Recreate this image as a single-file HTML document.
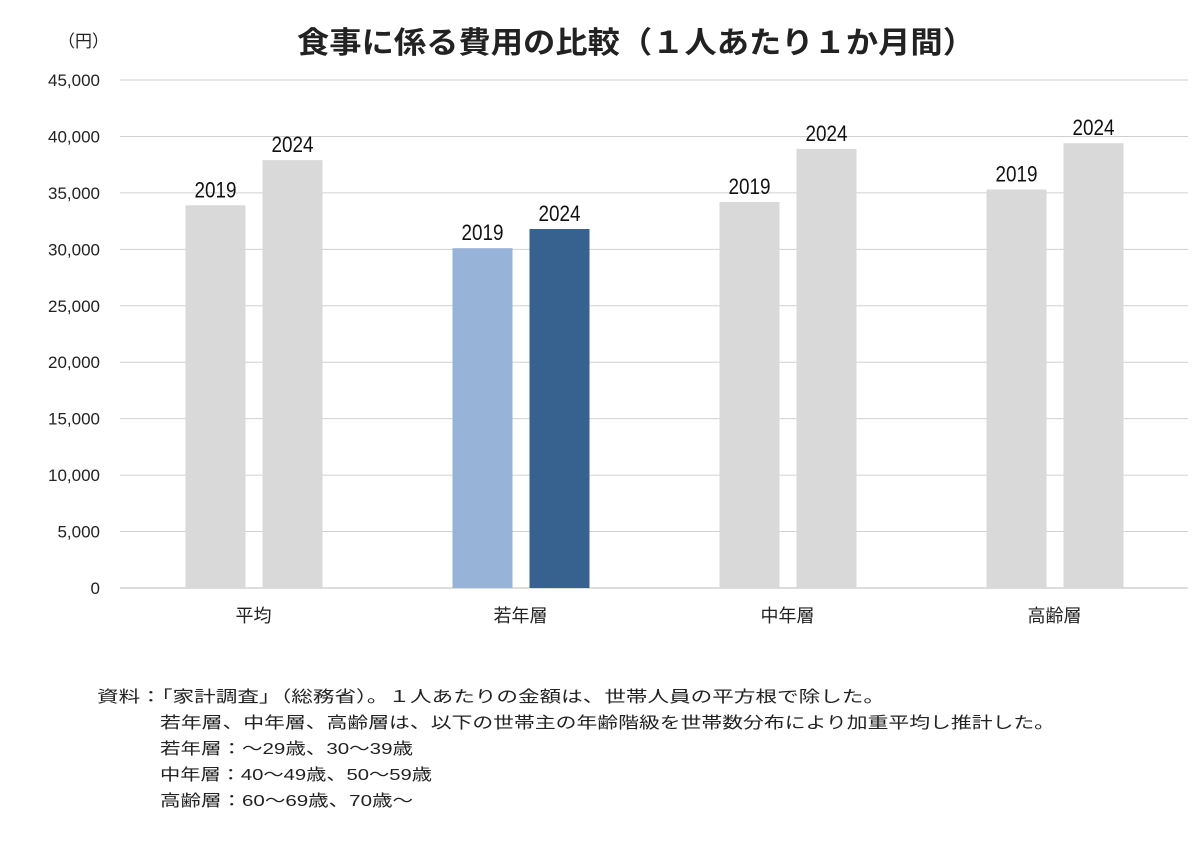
<!DOCTYPE html>
<html><head><meta charset="utf-8"><style>
body{margin:0;background:#fff;width:1200px;height:840px;overflow:hidden;font-family:"Liberation Sans","Noto Sans CJK JP",sans-serif;}
</style></head><body>
<svg width="1200" height="840" xmlns="http://www.w3.org/2000/svg">
<text x="297" y="53" font-size="30" font-weight="bold" fill="#222" textLength="678" lengthAdjust="spacingAndGlyphs" font-family="Liberation Sans,Noto Sans CJK JP,sans-serif">食事に係る費用の比較（１人あたり１か月間）</text>
<text x="58" y="47" font-size="17" fill="#222" font-family="Liberation Sans,Noto Sans CJK JP,sans-serif">（円）</text>
<g id="grid"></g><g id="bars"></g><g id="labels"></g>
<g font-size="16" fill="#222" font-family="Liberation Sans,Noto Sans CJK JP,sans-serif">
<text x="97" y="702" textLength="788" lengthAdjust="spacingAndGlyphs">資料：「家計調査」（総務省）。１人あたりの金額は、世帯人員の平方根で除した。</text>
<text x="160" y="728" textLength="895" lengthAdjust="spacingAndGlyphs">若年層、中年層、高齢層は、以下の世帯主の年齢階級を世帯数分布により加重平均し推計した。</text>
<text x="160" y="754" textLength="253" lengthAdjust="spacingAndGlyphs">若年層：～29歳、30～39歳</text>
<text x="160" y="780" textLength="272" lengthAdjust="spacingAndGlyphs">中年層：40～49歳、50～59歳</text>
<text x="160" y="806" textLength="253" lengthAdjust="spacingAndGlyphs">高齢層：60～69歳、70歳～</text>
</g>
</svg>
<script>
const categories=["平均","若年層","中年層","高齢層"];
const series2019=[33900,30100,34200,35300];
const series2024=[37900,31800,38900,39400];
const yTicks=[0,5000,10000,15000,20000,25000,30000,35000,40000,45000];
const seriesNames=["2019","2024"];
const NS="http://www.w3.org/2000/svg";
const x0=120,x1=1188,y0=588,yTop=80,yMax=45000;
const y=v=>y0-(v/yMax)*(y0-yTop);
const band=(x1-x0)/categories.length;
const cx=i=>x0+band*(i+0.5);
function mk(t,a,p){const e=document.createElementNS(NS,t);for(const k in a)e.setAttribute(k,a[k]);p.appendChild(e);return e;}
const g=document.getElementById('grid'),b=document.getElementById('bars'),l=document.getElementById('labels');
yTicks.forEach(v=>{
 const ln=mk('line',{x1:x0,x2:x1,y1:y(v),y2:y(v),stroke:v===0?'#bbb':'#d0d0d0','stroke-width':1},g);
 
 
 const t=mk('text',{x:100,y:y(v)+6,'text-anchor':'end','font-size':17,fill:'#222'},g);
 t.textContent=v.toLocaleString('en-US');
 
 
});
const bw=60;
categories.forEach((c,i)=>{
 [series2019,series2024].forEach((s,j)=>{
  const isY=i===1;
  const fill=isY?(j===0?'#97b3d7':'#37618f'):'#d9d9d9';
  const bx=cx(i)+(j===0?-68:9);
  const r=mk('rect',{x:bx,y:y(s[i]),width:bw,height:y0-y(s[i]),fill:fill},b);
  
  
  const t=mk('text',{x:bx+bw/2-21,y:y(s[i])-8,'font-size':22,fill:'#111',textLength:42,lengthAdjust:'spacingAndGlyphs'},l);
  t.textContent=seriesNames[j];
  
  
 });
 const t=mk('text',{x:cx(i),y:622,'text-anchor':'middle','font-size':18,fill:'#222'},l);
 t.textContent=c;
 
 
});
</script>
</body></html>
